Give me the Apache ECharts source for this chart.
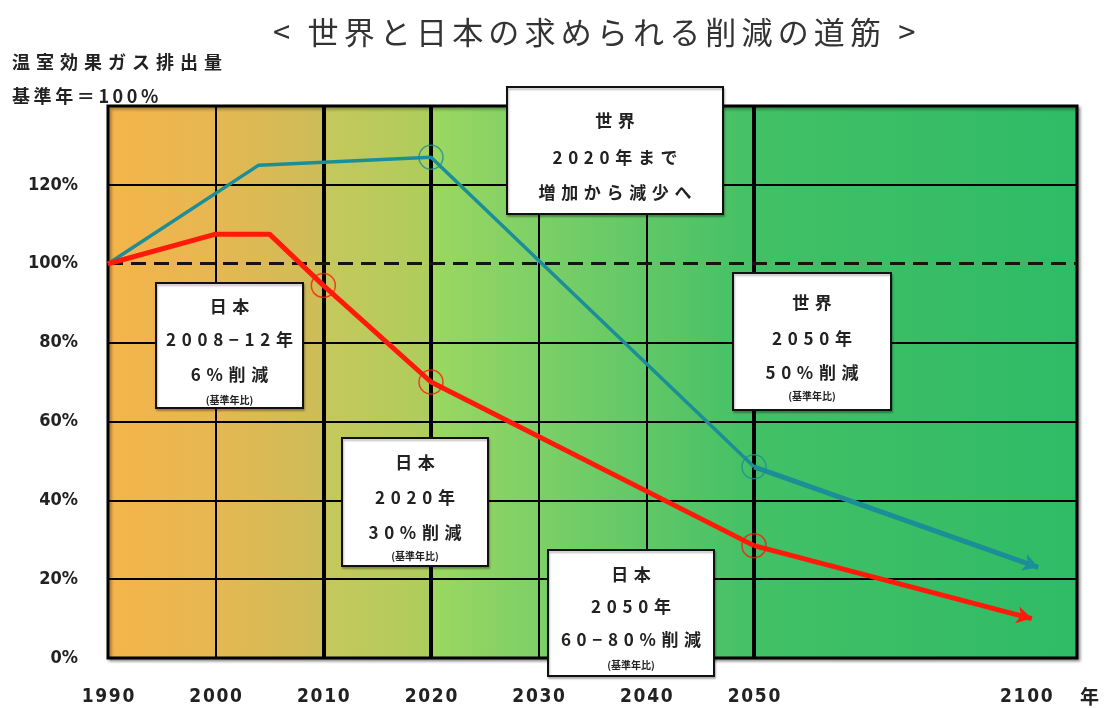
<!DOCTYPE html>
<html>
<head>
<meta charset="utf-8">
<script src="https://cdn.jsdelivr.net/npm/echarts@6/dist/echarts.min.js"></script>
<style>
  html, body { margin: 0; padding: 0; background: #fff; }
  #chart { width: 1106px; height: 708px; }
</style>
</head>
<body>
<div id="chart"></div>
<script>
// Emission pathways (base year = 100%)
const worldYears  = [1990, 2004, 2020, 2050, 2094];
const worldValues = [100, 125, 127, 48.5, 23];
const japanYears  = [1990, 2000, 2005, 2010, 2020, 2050, 2093];
const japanValues = [100, 107.5, 107.5, 94.5, 70, 28.5, 10];

// Years marked with an open circle on each path
const worldMarkerYears = [2020, 2050];
const japanMarkerYears = [2010, 2020, 2050];

// Axis ticks
const xTickYears  = [1990, 2000, 2010, 2020, 2030, 2040, 2050];
const xTickLabels = ['1990', '2000', '2010', '2020', '2030', '2040', '2050'];
const xEndYear    = '2100';
const xUnit       = '年';
const xThinLines  = [2000, 2030, 2040];
const xThickLines = [2010, 2020, 2050];
const yTicks      = [0, 20, 40, 60, 80, 100, 120];
const yBaseline   = 100;

// Annotation texts
const noteWorld2020 = ['世界', '2020年まで', '増加から減少へ'];
const noteJapanKyoto = ['日本', '2008−12年', '6%削減', '(基準年比)'];
const noteWorld2050 = ['世界', '2050年', '50%削減', '(基準年比)'];
const noteJapan2020 = ['日本', '2020年', '30%削減', '(基準年比)'];
const noteJapan2050 = ['日本', '2050年', '60−80%削減', '(基準年比)'];

const titleText = '< 世界と日本の求められる削減の道筋 >';
const yTitle1 = '温室効果ガス排出量';
const yTitle2 = '基準年＝100%';

const RED = '#ff1a0a';
const TEAL = '#1b8e98';
const CJK = "'Noto Sans CJK JP', 'Noto Sans', sans-serif";
const NARROW = "'Liberation Sans Narrow', 'DejaVu Sans Condensed', sans-serif";

// The time axis is compressed after 2050: one decade per unit up to 2050,
// then 2050-2100 spans three units.
function pos(year) {
  return year <= 2050 ? (year - 1990) / 10 : 6 + (year - 2050) / 50 * 3;
}
function spaced(s, gap) { return Array.from(s).join(gap || '\u2009'); }
function pairs(years, values, n) {
  const out = [];
  for (let i = 0; i < n; i++) out.push([pos(years[i]), values[i]]);
  return out;
}
function markers(years, values, marks) {
  return marks.map(y => [pos(y), values[years.indexOf(y)]]);
}

const chart = echarts.init(document.getElementById('chart'));

function noteBox(x, y, w, h, lines, offsets) {
  const children = [{
    type: 'rect', z: 100,
    shape: { x: 0, y: 0, width: w, height: h },
    style: { fill: '#fff', stroke: '#111', lineWidth: 2,
             shadowColor: 'rgba(0,0,0,0.25)', shadowOffsetX: 1, shadowOffsetY: 2, shadowBlur: 2 }
  }];
  lines.forEach((t, i) => {
    const small = t.startsWith('(');
    children.push({
      type: 'text', z: 101,
      x: w / 2, y: offsets[i],
      style: {
        text: small ? t : spaced(t, '\u2004'),
        fill: '#222',
        font: (small ? 'bold 10px ' : 'bold 17px ') + CJK,
        textAlign: 'center', textVerticalAlign: 'middle'
      }
    });
  });
  return { type: 'group', x: x, y: y, z: 100, children: children };
}

const vLines = []
  .concat(xThinLines.map(y => ({ xAxis: pos(y), lineStyle: { width: 2 } })))
  .concat(xThickLines.map(y => ({ xAxis: pos(y), lineStyle: { width: 4 } })));
const hLines = yTicks.filter(v => v > 0 && v !== yBaseline)
  .map(v => ({ yAxis: v, lineStyle: { width: 2 } }));
hLines.push({ yAxis: yBaseline, lineStyle: { width: 3, type: [15, 8], color: '#151515' } });

const wn = worldYears.length, jn = japanYears.length;

chart.setOption({
  animation: false,
  title: {
    text: spaced(titleText, '\u2006'),
    left: 268, top: 12,
    textStyle: { fontFamily: CJK, fontSize: 31, fontWeight: 'normal', color: '#333' }
  },
  grid: {
    left: 108, right: 29, top: 106, bottom: 50,
    show: true,
    borderColor: '#000', borderWidth: 3,
    shadowColor: 'rgba(0,0,0,0.35)', shadowBlur: 3, shadowOffsetX: 2, shadowOffsetY: 2,
    backgroundColor: new echarts.graphic.LinearGradient(0, 0, 1, 0, [
      { offset: 0.00, color: '#f5b44a' },
      { offset: 0.11, color: '#e6b751' },
      { offset: 0.22, color: '#cdbd58' },
      { offset: 0.23, color: '#c5c85b' },
      { offset: 0.33, color: '#aecd5c' },
      { offset: 0.34, color: '#9ad760' },
      { offset: 0.45, color: '#7bcf67' },
      { offset: 0.56, color: '#5fc767' },
      { offset: 0.67, color: '#42c066' },
      { offset: 1.00, color: '#2fbb66' }
    ])
  },
  xAxis: {
    type: 'value', min: 0, max: 9, interval: 1,
    axisLine: { show: false }, axisTick: { show: false }, splitLine: { show: false },
    axisLabel: {
      margin: 30,
      fontFamily: NARROW, fontWeight: 'bold', fontSize: 19, color: '#222',
      formatter: v => {
        const i = xTickYears.findIndex(y => Math.abs(pos(y) - v) < 1e-6);
        return i >= 0 ? spaced(xTickLabels[i], '\u200a') : '';
      }
    }
  },
  yAxis: {
    type: 'value', min: 0, max: 140, interval: 20,
    axisLine: { show: false }, axisTick: { show: false }, splitLine: { show: false },
    axisLabel: {
      margin: 30,
      fontFamily: NARROW, fontWeight: 'bold', fontSize: 18, color: '#222',
      formatter: v => yTicks.indexOf(v) >= 0 ? v + '%' : ''
    }
  },
  graphic: [
    { type: 'text', x: 12, y: 62, style: { text: spaced(yTitle1, '\u2004'), font: 'bold 18px ' + CJK, fill: '#222', textVerticalAlign: 'middle' } },
    { type: 'text', x: 12, y: 96, style: { text: spaced(yTitle2, '\u2009'), font: 'bold 18px ' + CJK, fill: '#222', textVerticalAlign: 'middle' } },
    { type: 'text', x: 1000, y: 697, style: { text: spaced(xEndYear, '\u200a'), font: 'bold 19px ' + NARROW, fill: '#222', textVerticalAlign: 'middle' } },
    { type: 'text', x: 1080, y: 697, style: { text: xUnit, font: 'bold 19px ' + CJK, fill: '#222', textVerticalAlign: 'middle' } },
    noteBox(507, 87, 216, 127, noteWorld2020, [34, 71, 106]),
    noteBox(156, 283, 147, 125, noteJapanKyoto, [24, 57, 92, 117]),
    noteBox(733, 273, 158, 137, noteWorld2050, [30, 66, 100, 123]),
    noteBox(342, 438, 146, 128, noteJapan2020, [25, 60, 95, 118]),
    noteBox(548, 550, 166, 126, noteJapan2050, [25, 57, 90, 115])
  ],
  series: [
    {
      // chart gridlines
      type: 'line', data: [], z: 1, silent: true,
      markLine: {
        silent: true, symbol: ['none', 'none'], label: { show: false },
        lineStyle: { color: '#000', type: 'solid' },
        emphasis: { disabled: true },
        data: vLines.concat(hLines)
      }
    },
    {
      name: '世界', type: 'line', z: 5,
      data: pairs(worldYears, worldValues, wn - 1),
      showSymbol: false, lineStyle: { color: TEAL, width: 3.5 },
      markLine: {
        silent: true, symbol: ['none', 'arrow'], symbolSize: [13, 15], label: { show: false },
        emphasis: { disabled: true },
        lineStyle: { color: TEAL, width: 5, type: 'solid' },
        data: [[{ coord: [pos(worldYears[wn - 2]), worldValues[wn - 2]] },
                { coord: [pos(worldYears[wn - 1]), worldValues[wn - 1]] }]]
      }
    },
    {
      name: '日本', type: 'line', z: 6,
      data: pairs(japanYears, japanValues, jn - 1),
      showSymbol: false, lineStyle: { color: RED, width: 5 },
      markLine: {
        silent: true, symbol: ['none', 'arrow'], symbolSize: [13, 15], label: { show: false },
        emphasis: { disabled: true },
        lineStyle: { color: RED, width: 5, type: 'solid' },
        data: [[{ coord: [pos(japanYears[jn - 2]), japanValues[jn - 2]] },
                { coord: [pos(japanYears[jn - 1]), japanValues[jn - 1]] }]]
      }
    },
    {
      type: 'scatter', z: 7, silent: true,
      data: markers(worldYears, worldValues, worldMarkerYears),
      symbol: 'circle', symbolSize: 24,
      itemStyle: { color: 'rgba(0,0,0,0)', borderColor: TEAL, borderWidth: 1.5 }
    },
    {
      type: 'scatter', z: 7, silent: true,
      data: markers(japanYears, japanValues, japanMarkerYears),
      symbol: 'circle', symbolSize: 24,
      itemStyle: { color: 'rgba(0,0,0,0)', borderColor: RED, borderWidth: 1.5 }
    }
  ]
});
</script>
</body>
</html>
